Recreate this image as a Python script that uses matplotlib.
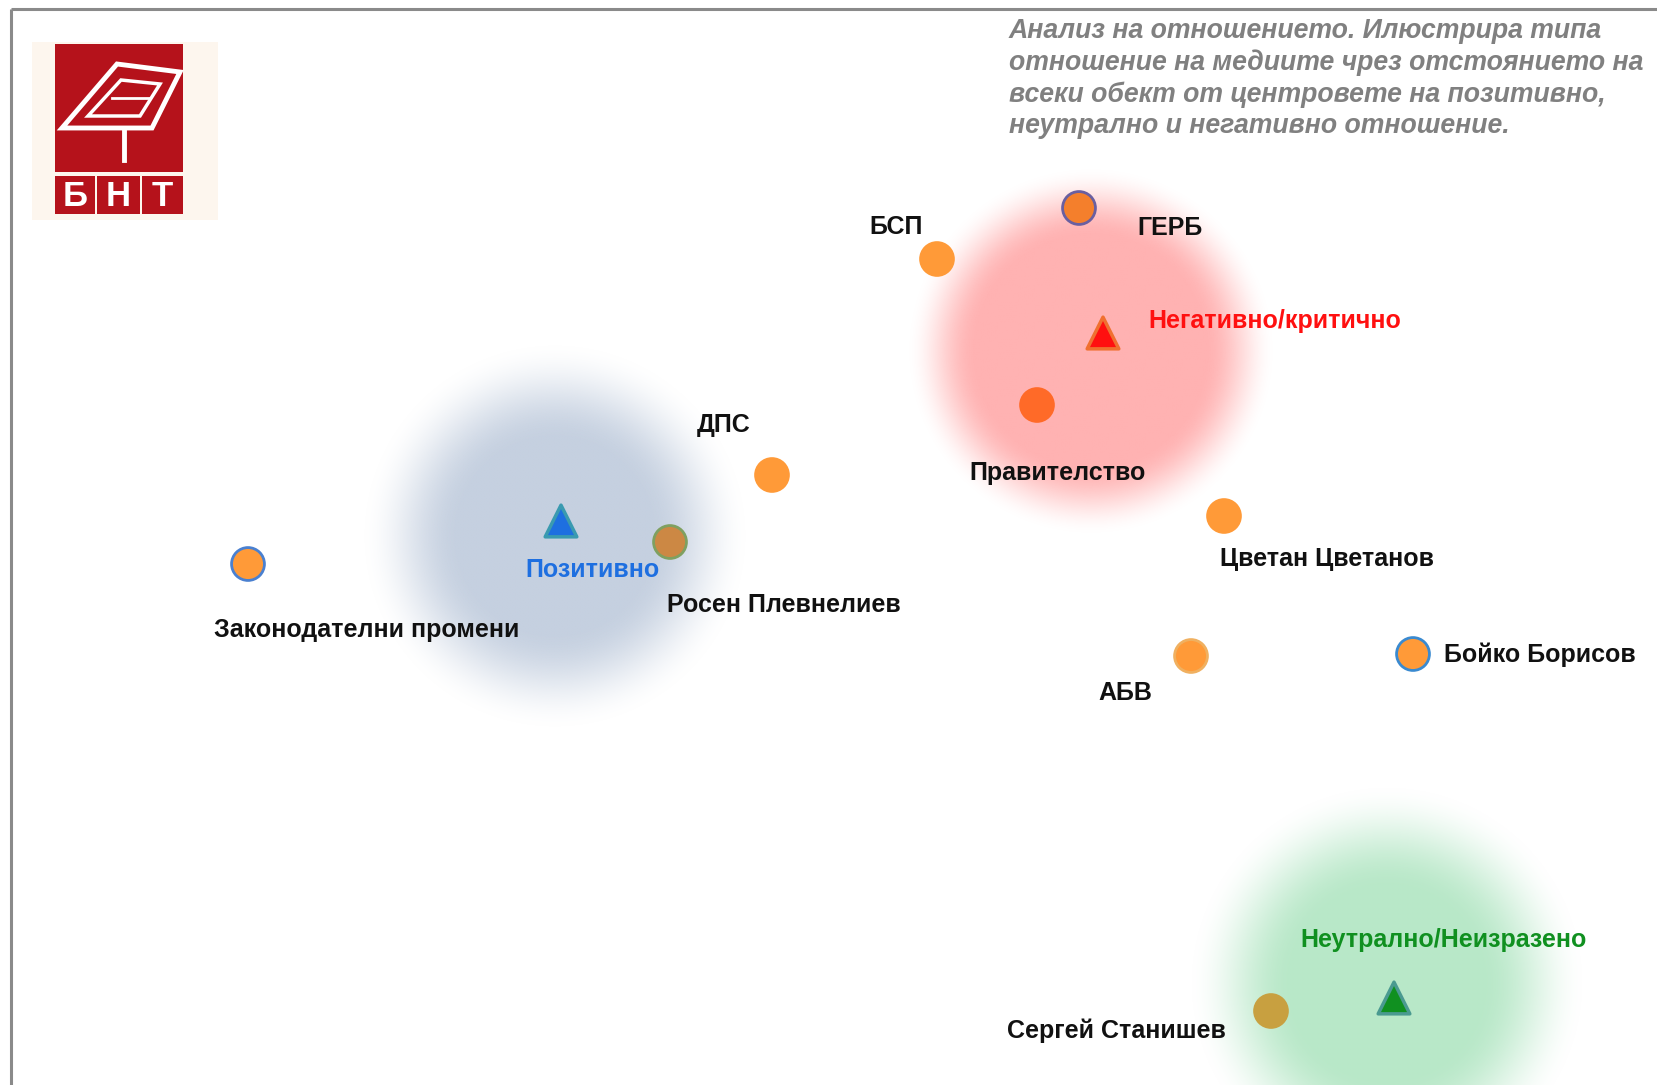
import numpy as np
import matplotlib.pyplot as plt
import matplotlib.colors as mcolors
from matplotlib.patches import Rectangle, Polygon

# Objects on the attitude map (map units follow the original slide, y grows downwards)
objects = ["ГЕРБ", "БСП", "Правителство", "ДПС", "Цветан Цветанов", "Росен Плевнелиев",
           "Законодателни промени", "АБВ", "Бойко Борисов", "Сергей Станишев"]
obj_x = [1079, 937, 1037, 772, 1224, 670, 248, 1191, 1413, 1271]
obj_y = [208, 259, 405, 475, 516, 542, 564, 656, 654, 1011]

# Attitude centres
centres = ["Позитивно", "Негативно/критично", "Неутрално/Неизразено"]
centre_x = [561, 1103, 1394]
centre_y = [521, 333, 998]

note_lines = ["Анализ на отношението. Илюстрира типа",
              "отношение на медиите чрез отстоянието на",
              "всеки обект от центровете на позитивно,",
              "неутрално и негативно отношение."]

# styling
obj_face = ["#F47F2C", "#FF9A38", "#FF6A28", "#FF9A38", "#FF9A38", "#CC8844",
            "#FF9A38", "#FF9A38", "#FF9A38", "#C8A040"]
obj_edge = ["#6A5FA0", "#FF9A38", "#FF6A28", "#FF9A38", "#FF9A38", "#7FA060",
            "#4A80D0", "#F0B060", "#3A8AD0", "#C8A040"]
# label offsets in pixels (dx, dy with y down) and alignment
obj_lab = [(58, 20, "left"), (-14, -32, "right"), (-68, 68, "left"), (-75, -50, "left"),
           (-4, 43, "left"), (-3, 63, "left"), (-34, 66, "left"), (-93, 37, "left"),
           (31, 1, "left"), (-45, 20, "right")]
centre_face = ["#1E6FE0", "#FF1010", "#109020"]
centre_edge = ["#3A9AB0", "#F07030", "#4A9A90"]
centre_text = ["#1E6FE0", "#FF1010", "#109020"]
centre_lab = [(-36, 49), (45, -12), (-94, -58)]
halo_col = ["#C5D0E0", "#FFB2B2", "#B8E8C8"]
halo_off = [(-6, 15), (-12, 18), (-7, -15)]
halo_r = [(95, 195), (115, 185), (95, 200)]

W, H = 1658, 1085
fig = plt.figure(figsize=(W / 100, H / 100), dpi=100)
ax = fig.add_axes([0, 0, 1, 1])
ax.axis("off")


def halo(cx, cy, r_in, r_out, color):
    n = 240
    xs = np.linspace(-r_out, r_out, n)
    xx, yy = np.meshgrid(xs, xs)
    t = np.clip((r_out - np.hypot(xx, yy)) / (r_out - r_in), 0, 1)
    rgba = np.zeros((n, n, 4))
    rgba[..., :3] = mcolors.to_rgb(color)
    rgba[..., 3] = t * t * (3 - 2 * t)
    ax.imshow(rgba, extent=(cx - r_out, cx + r_out, cy + r_out, cy - r_out),
              interpolation="bilinear", zorder=1)


for i in range(len(centres)):
    halo(centre_x[i] + halo_off[i][0], centre_y[i] + halo_off[i][1],
         halo_r[i][0], halo_r[i][1], halo_col[i])

# frame
ax.plot([11, W], [9, 9], color="#8A8A8A", lw=2.2, zorder=5, solid_capstyle="butt")
ax.plot([11, 11], [9, H], color="#8A8A8A", lw=2.2, zorder=5, solid_capstyle="butt")

# objects
ax.scatter(obj_x, obj_y, s=560, c=obj_face, edgecolors=obj_edge, linewidths=2, zorder=4)
for i, name in enumerate(objects):
    dx, dy, ha = obj_lab[i]
    ax.annotate(name, (obj_x[i], obj_y[i]), xytext=(dx, -dy), textcoords="offset pixels",
                ha=ha, va="center", fontsize=18, fontweight="bold", color="#111111",
                family="Liberation Sans", zorder=6)

# centres
ax.scatter(centre_x, centre_y, s=520, marker="^", c=centre_face, edgecolors=centre_edge,
           linewidths=2.5, zorder=4)
for i, name in enumerate(centres):
    dx, dy = centre_lab[i]
    ax.annotate(name, (centre_x[i], centre_y[i]), xytext=(dx, -dy), textcoords="offset pixels",
                ha="left", va="center", fontsize=18, fontweight="bold", color=centre_text[i],
                family="Liberation Sans", zorder=6)

# note, one line at a time
for k, line in enumerate(note_lines):
    ax.text(1009, 31 + 31.7 * k, line, ha="left", va="center", fontsize=19.2,
            fontweight="bold", style="italic", color="#808080", family="Liberation Sans",
            zorder=6)

# BNT logo
red = "#B5121B"
ax.add_patch(Rectangle((32, 42), 186, 178, facecolor="#FDF6EE", edgecolor="none", zorder=2))
ax.add_patch(Rectangle((55, 44), 128, 128, facecolor=red, edgecolor="none", zorder=3))
for x0, w, ch in [(55, 40, "Б"), (97, 43, "Н"), (142, 41, "Т")]:
    ax.add_patch(Rectangle((x0, 176), w, 38, facecolor=red, edgecolor="none", zorder=3))
    ax.text(x0 + w / 2, 196, ch, ha="center", va="center", color="white", fontsize=25,
            fontweight="bold", family="Liberation Sans", zorder=4)
ax.add_patch(Polygon([(62, 128), (117, 64), (180, 72), (152, 128)], closed=True, fill=False,
                     edgecolor="white", lw=3.5, zorder=4))
ax.add_patch(Polygon([(88, 116), (121, 80), (160, 84), (140, 116)], closed=True, fill=False,
                     edgecolor="white", lw=2.5, zorder=4))
ax.plot([124, 124], [128, 160], color="white", lw=3.5, zorder=4)
ax.plot([112, 150], [98, 98], color="white", lw=2, zorder=4)

ax.set_xlim(0, W)
ax.set_ylim(H, 0)
ax.set_aspect("auto")
fig.savefig("out.png", dpi=100, facecolor="white")
